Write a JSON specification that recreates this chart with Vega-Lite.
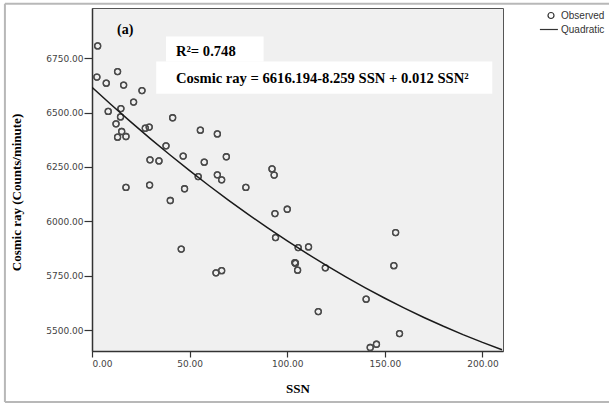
{
  "$schema": "https://vega.github.io/schema/vega-lite/v6.json",
  "width": 411,
  "height": 343,
  "autosize": {"type": "none"},
  "padding": {"left": 92, "top": 8, "right": 106, "bottom": 53},
  "background": "white",
  "config": {
    "view": {"fill": "#f0f0f0", "stroke": "#555555", "strokeWidth": 1},
    "axis": {
      "grid": false,
      "labelFont": "DejaVu Sans",
      "labelFontSize": 9,
      "labelColor": "#444444",
      "domainColor": "#333333",
      "domainWidth": 1.5,
      "tickColor": "#333333",
      "tickWidth": 1.2,
      "titleFont": "Liberation Serif",
      "titleFontWeight": "bold",
      "titleFontSize": 13,
      "titleColor": "#000000"
    }
  },
  "datasets": {
    "one": [{"k": 1}],
    "obs": [
      {"SSN": 2.9, "CR": 6806, "series": "Observed"},
      {"SSN": 2.5, "CR": 6663, "series": "Observed"},
      {"SSN": 7.3, "CR": 6635, "series": "Observed"},
      {"SSN": 13.1, "CR": 6688, "series": "Observed"},
      {"SSN": 16.2, "CR": 6626, "series": "Observed"},
      {"SSN": 25.6, "CR": 6601, "series": "Observed"},
      {"SSN": 21.3, "CR": 6548, "series": "Observed"},
      {"SSN": 8.3, "CR": 6505, "series": "Observed"},
      {"SSN": 14.8, "CR": 6518, "series": "Observed"},
      {"SSN": 14.6, "CR": 6480, "series": "Observed"},
      {"SSN": 12.3, "CR": 6448, "series": "Observed"},
      {"SSN": 15.2, "CR": 6413, "series": "Observed"},
      {"SSN": 13.1, "CR": 6387, "series": "Observed"},
      {"SSN": 17.4, "CR": 6390, "series": "Observed"},
      {"SSN": 27.3, "CR": 6428, "series": "Observed"},
      {"SSN": 29.3, "CR": 6433, "series": "Observed"},
      {"SSN": 41.3, "CR": 6476, "series": "Observed"},
      {"SSN": 37.9, "CR": 6347, "series": "Observed"},
      {"SSN": 55.5, "CR": 6419, "series": "Observed"},
      {"SSN": 64.2, "CR": 6402, "series": "Observed"},
      {"SSN": 29.7, "CR": 6283, "series": "Observed"},
      {"SSN": 34.3, "CR": 6278, "series": "Observed"},
      {"SSN": 46.7, "CR": 6300, "series": "Observed"},
      {"SSN": 57.5, "CR": 6272, "series": "Observed"},
      {"SSN": 68.8, "CR": 6297, "series": "Observed"},
      {"SSN": 54.4, "CR": 6206, "series": "Observed"},
      {"SSN": 64.2, "CR": 6214, "series": "Observed"},
      {"SSN": 66.4, "CR": 6191, "series": "Observed"},
      {"SSN": 78.8, "CR": 6156, "series": "Observed"},
      {"SSN": 92.2, "CR": 6241, "series": "Observed"},
      {"SSN": 93.3, "CR": 6213, "series": "Observed"},
      {"SSN": 17.4, "CR": 6156, "series": "Observed"},
      {"SSN": 29.5, "CR": 6167, "series": "Observed"},
      {"SSN": 47.4, "CR": 6150, "series": "Observed"},
      {"SSN": 40.1, "CR": 6096, "series": "Observed"},
      {"SSN": 93.7, "CR": 6036, "series": "Observed"},
      {"SSN": 100.0, "CR": 6056, "series": "Observed"},
      {"SSN": 94.0, "CR": 5926, "series": "Observed"},
      {"SSN": 45.7, "CR": 5873, "series": "Observed"},
      {"SSN": 63.5, "CR": 5764, "series": "Observed"},
      {"SSN": 66.4, "CR": 5774, "series": "Observed"},
      {"SSN": 103.9, "CR": 5811, "series": "Observed"},
      {"SSN": 104.2, "CR": 5808, "series": "Observed"},
      {"SSN": 105.3, "CR": 5776, "series": "Observed"},
      {"SSN": 105.6, "CR": 5880, "series": "Observed"},
      {"SSN": 110.9, "CR": 5883, "series": "Observed"},
      {"SSN": 119.5, "CR": 5787, "series": "Observed"},
      {"SSN": 115.9, "CR": 5586, "series": "Observed"},
      {"SSN": 155.5, "CR": 5949, "series": "Observed"},
      {"SSN": 154.6, "CR": 5797, "series": "Observed"},
      {"SSN": 140.4, "CR": 5643, "series": "Observed"},
      {"SSN": 157.5, "CR": 5485, "series": "Observed"},
      {"SSN": 145.7, "CR": 5436, "series": "Observed"},
      {"SSN": 142.5, "CR": 5421, "series": "Observed"}
    ],
    "fit": [
      {"SSN": 0, "CR": 6616.2},
      {"SSN": 10, "CR": 6534.8},
      {"SSN": 20, "CR": 6455.8},
      {"SSN": 30, "CR": 6379.2},
      {"SSN": 40, "CR": 6305.0},
      {"SSN": 50, "CR": 6233.2},
      {"SSN": 60, "CR": 6163.9},
      {"SSN": 70, "CR": 6096.9},
      {"SSN": 80, "CR": 6032.3},
      {"SSN": 90, "CR": 5970.1},
      {"SSN": 100, "CR": 5910.3},
      {"SSN": 110, "CR": 5852.9},
      {"SSN": 120, "CR": 5797.9},
      {"SSN": 130, "CR": 5745.3},
      {"SSN": 140, "CR": 5695.1},
      {"SSN": 150, "CR": 5647.3},
      {"SSN": 160, "CR": 5602.0},
      {"SSN": 170, "CR": 5559.0},
      {"SSN": 180, "CR": 5518.4},
      {"SSN": 190, "CR": 5480.2},
      {"SSN": 200, "CR": 5444.4},
      {"SSN": 210, "CR": 5411.0}
    ]
  },
  "resolve": {"scale": {"x": "shared", "y": "shared"}},
  "layer": [
    {
      "data": {"name": "obs"},
      "mark": {"type": "point", "filled": false, "color": "#4a4a4a", "strokeWidth": 1.3, "size": 36, "opacity": 1},
      "encoding": {
        "x": {
          "field": "SSN",
          "type": "quantitative",
          "scale": {"domain": [0, 210.5], "nice": false, "zero": false},
          "axis": {"title": "SSN", "values": [0, 50, 100, 150, 200], "format": ".2f", "tickSize": 6, "labelPadding": 2, "titlePadding": 14}
        },
        "y": {
          "field": "CR",
          "type": "quantitative",
          "scale": {"domain": [5405, 6980], "nice": false, "zero": false},
          "axis": {"title": "Cosmic ray (Counts/minute)", "values": [5500, 5750, 6000, 6250, 6500, 6750], "format": ".2f", "tickSize": 8, "labelPadding": 1, "titlePadding": 22, "titleY": 184}
        },
        "shape": {
          "field": "series",
          "type": "nominal",
          "scale": {"domain": ["Observed", "Quadratic"], "range": ["circle", "M-3.7,0H2.3"]},
          "legend": {
            "title": null,
            "orient": "none",
            "legendX": 454,
            "legendY": 2.5,
            "labelFont": "Liberation Sans",
            "labelFontSize": 10,
            "labelColor": "#333333",
            "symbolStrokeColor": "#333333",
            "symbolFillColor": "transparent",
            "symbolSize": 36,
            "symbolStrokeWidth": 1.2,
            "rowPadding": 3,
            "labelOffset": 5
          }
        }
      }
    },
    {
      "data": {"name": "one"},
      "mark": {"type": "rect", "fill": "white"},
      "encoding": {
        "x": {"datum": 37.9, "type": "quantitative", "title": "SSN"},
        "x2": {"datum": 87.9},
        "y": {"datum": 6849, "type": "quantitative", "title": "Cosmic ray (Counts/minute)"},
        "y2": {"datum": 6734}
      }
    },
    {
      "data": {"name": "one"},
      "mark": {"type": "rect", "fill": "white"},
      "encoding": {
        "x": {"datum": 32.9, "type": "quantitative", "title": "SSN"},
        "x2": {"datum": 205.0},
        "y": {"datum": 6734, "type": "quantitative", "title": "Cosmic ray (Counts/minute)"},
        "y2": {"datum": 6586}
      }
    },
    {
      "data": {"name": "obs"},
      "mark": {"type": "point", "filled": false, "color": "#4a4a4a", "strokeWidth": 1.3, "size": 36, "opacity": 1, "shape": "circle"},
      "encoding": {
        "x": {"field": "SSN", "type": "quantitative", "title": "SSN"},
        "y": {"field": "CR", "type": "quantitative", "title": "Cosmic ray (Counts/minute)"}
      }
    },
    {
      "data": {"name": "fit"},
      "mark": {"type": "line", "color": "#1a1a1a", "strokeWidth": 1.5, "clip": true},
      "encoding": {
        "x": {"field": "SSN", "type": "quantitative", "title": "SSN"},
        "y": {"field": "CR", "type": "quantitative", "title": "Cosmic ray (Counts/minute)"}
      }
    },
    {
      "data": {"name": "one"},
      "mark": {"type": "rule", "color": "#b8b8b8", "strokeWidth": 2, "clip": false},
      "encoding": {
        "x": {"datum": -44.6, "type": "quantitative", "title": "SSN"},
        "y": {"datum": 6999, "type": "quantitative", "title": "Cosmic ray (Counts/minute)"},
        "y2": {"datum": 5171}
      }
    },
    {
      "data": {"name": "one"},
      "mark": {"type": "rule", "color": "#b8b8b8", "strokeWidth": 2, "clip": false},
      "encoding": {
        "x": {"datum": -44.6, "type": "quantitative", "title": "SSN"},
        "x2": {"datum": 320},
        "y": {"datum": 6999, "type": "quantitative", "title": "Cosmic ray (Counts/minute)"}
      }
    },
    {
      "data": {"name": "one"},
      "mark": {"type": "rule", "color": "#b8b8b8", "strokeWidth": 2, "clip": false},
      "encoding": {
        "x": {"datum": -44.6, "type": "quantitative", "title": "SSN"},
        "x2": {"datum": 320},
        "y": {"datum": 5171, "type": "quantitative", "title": "Cosmic ray (Counts/minute)"}
      }
    },
    {
      "data": {"name": "one"},
      "mark": {"type": "text", "text": "(a)", "font": "Liberation Serif", "fontWeight": "bold", "fontSize": 14, "align": "left", "baseline": "middle", "color": "#000000"},
      "encoding": {
        "x": {"datum": 12.8, "type": "quantitative", "title": "SSN"},
        "y": {"datum": 6880, "type": "quantitative", "title": "Cosmic ray (Counts/minute)"}
      }
    },
    {
      "data": {"name": "one"},
      "mark": {"type": "text", "text": "R²= 0.748", "font": "Liberation Serif", "fontWeight": "bold", "fontSize": 14.6, "align": "left", "baseline": "middle", "color": "#000000"},
      "encoding": {
        "x": {"datum": 43.0, "type": "quantitative", "title": "SSN"},
        "y": {"datum": 6780, "type": "quantitative", "title": "Cosmic ray (Counts/minute)"}
      }
    },
    {
      "data": {"name": "one"},
      "mark": {"type": "text", "text": "Cosmic ray = 6616.194-8.259 SSN + 0.012 SSN²", "font": "Liberation Serif", "fontWeight": "bold", "fontSize": 14.6, "align": "left", "baseline": "middle", "color": "#000000"},
      "encoding": {
        "x": {"datum": 43.0, "type": "quantitative", "title": "SSN"},
        "y": {"datum": 6656, "type": "quantitative", "title": "Cosmic ray (Counts/minute)"}
      }
    }
  ]
}
